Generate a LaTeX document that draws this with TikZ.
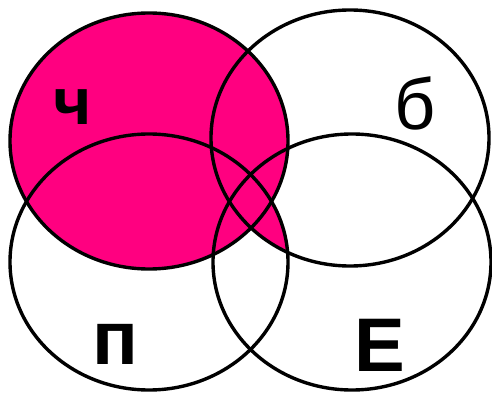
\documentclass[tikz,border=0pt]{standalone}
\usepackage{fontspec}
\setmainfont{Liberation Sans}
\definecolor{mag}{RGB}{255,0,128}
\tikzset{
  venn/.style={draw=black, line width=3.4pt},
  lbl/.style={inner sep=0pt, font=\fontsize{76}{80}\selectfont\bfseries},
}
\begin{document}
\begin{tikzpicture}[x=1pt,y=-1pt]
\useasboundingbox (0,0) rectangle (492,395);
\def\rx{139pt}\def\ry{128pt}
% fills
\fill[mag] (149,141) ellipse [x radius=\rx, y radius=\ry];
\begin{scope}
  \clip (350,138) ellipse [x radius=\rx, y radius=\ry];
  \fill[mag] (149,262) ellipse [x radius=\rx, y radius=\ry];
\end{scope}
% outlines
\draw[venn] (149,141) ellipse [x radius=\rx, y radius=\ry];
\draw[venn] (350,138) ellipse [x radius=\rx, y radius=\ry];
\draw[venn] (149,262) ellipse [x radius=\rx, y radius=\ry];
\draw[venn] (352,262) ellipse [x radius=\rx, y radius=\ry];
% labels
\node[lbl, font=\fontsize{66}{70}\selectfont\bfseries] (ch) at (73,107) {ч};
\node[lbl, font=\fontsize{72}{76}\selectfont] (b) at (415,103) {б};
\node[lbl] (p) at (115,344) {п};
\node[lbl] (e) at (380,345) {Е};
\end{tikzpicture}
\end{document}
